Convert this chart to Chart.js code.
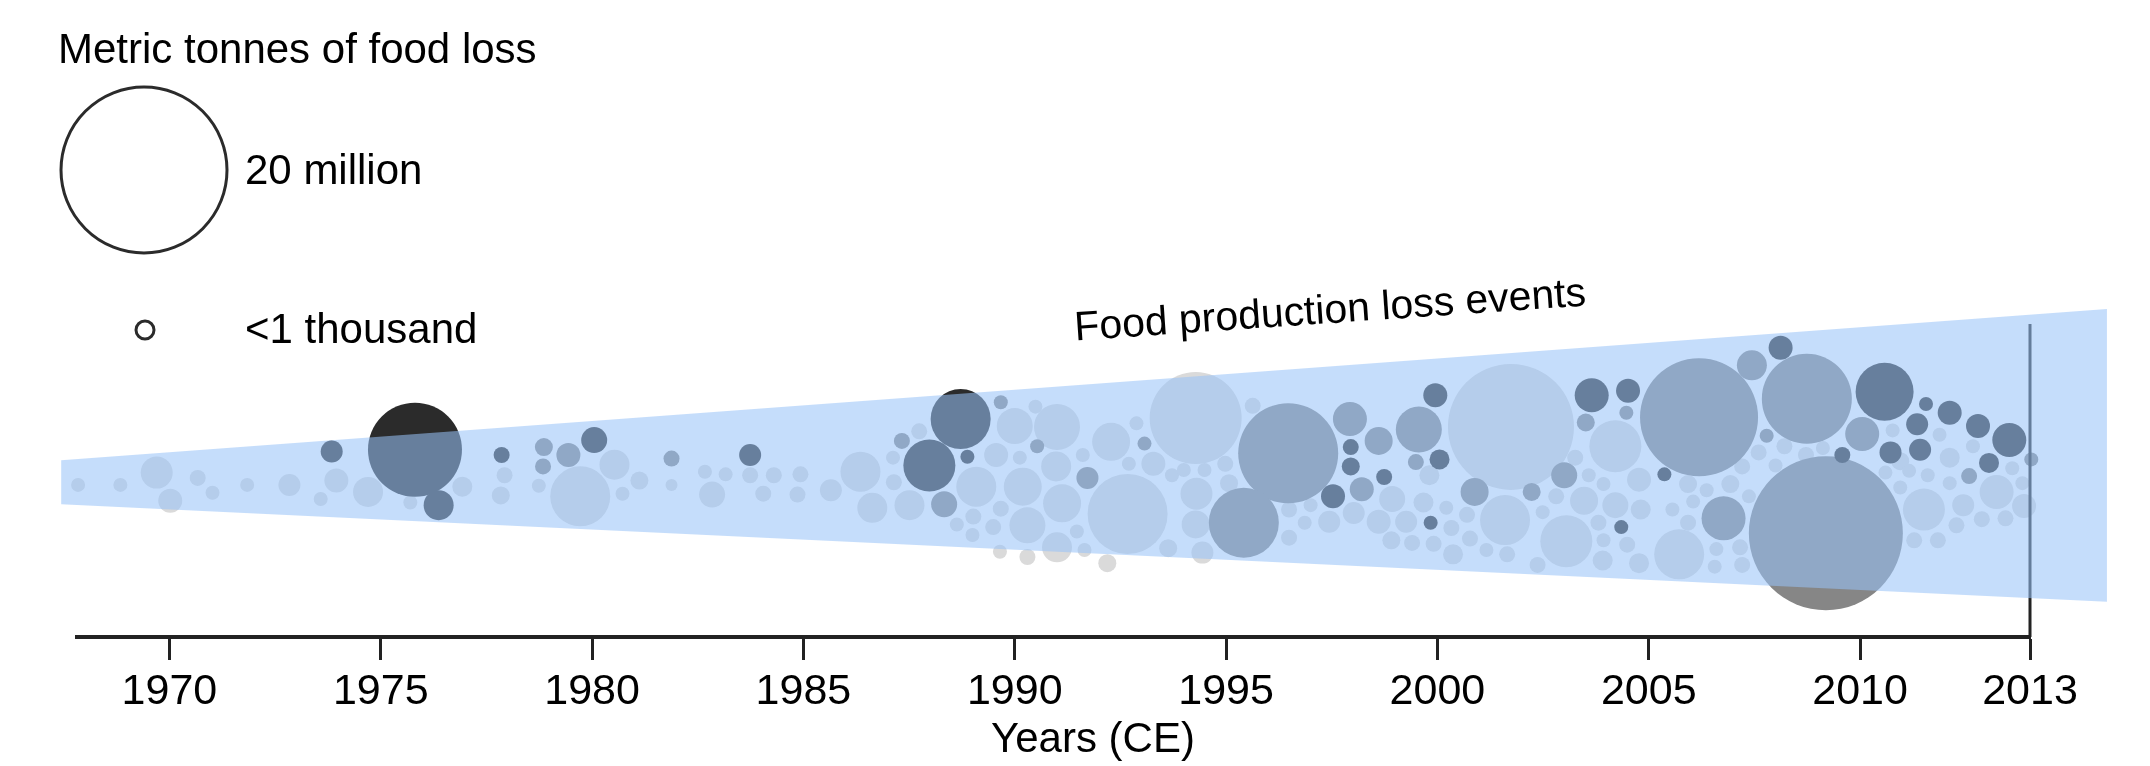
<!DOCTYPE html>
<html>
<head>
<meta charset="utf-8">
<script src="https://cdn.jsdelivr.net/npm/chart.js@4.4.1/dist/chart.umd.min.js"></script>
<style>
  html, body { margin: 0; padding: 0; background: #fff; }
  #wrap { width: 2150px; height: 766px; }
</style>
</head>
<body>
<div id="wrap"><canvas id="food_loss_chart"></canvas></div>
<script>
// bubble data (year, swarm position, radius px, shade)
var bubbleYear = [1967.84,1968.84,1969.70,1970.02,1970.67,1971.02,1971.84,1972.84,1973.84,1973.95,1973.58,1974.70,1975.81,1975.70,1976.37,1976.93,1977.86,1977.93,1977.84,1978.86,1978.84,1978.74,1979.44,1980.05,1980.53,1979.72,1981.12,1980.72,1981.88,1981.88,1982.67,1983.16,1982.84,1983.74,1983.74,1984.30,1984.05,1984.93,1984.86,1985.65,1986.35,1986.63,1987.33,1987.12,1987.14,1987.51,1987.74,1988.72,1987.98,1988.88,1988.33,1989.09,1988.63,1989.02,1989.00,1989.49,1989.67,1989.67,1990.49,1990.00,1989.56,1990.12,1990.53,1990.19,1990.30,1991.00,1990.98,1991.61,1991.72,1991.12,1991.00,1991.47,1989.65,1990.30,1991.65,1992.19,1992.28,1992.88,1993.07,1992.70,1993.28,1992.67,1993.72,1994.00,1994.49,1994.30,1994.28,1993.63,1994.44,1994.28,1996.47,1995.42,1995.63,1997.93,1998.61,1997.95,1997.95,1997.53,1999.56,1999.95,1999.49,2000.05,1999.84,1998.74,1998.21,1998.93,1998.02,1997.44,1998.61,1999.26,1999.67,1998.91,1999.40,1999.91,1996.49,1997.00,1996.86,1996.49,1994.98,1995.07,2001.74,2003.65,2004.51,2003.51,2004.47,2004.21,2006.19,2007.44,2008.12,2008.74,2010.58,2011.56,2012.12,2010.05,2011.35,2012.79,2013.53,2011.42,2010.72,2007.79,2009.58,2014.05,2013.05,2012.58,2003.00,2005.37,2002.23,2000.88,2004.35,2006.77,2009.19,2001.60,2003.05,2005.72,2003.47,2011.51,2013.23,2012.44,2013.88,2012.12,2010.95,2004.77,2003.93,2004.21,2004.81,2005.93,2006.37,2006.93,2007.37,2007.21,2007.60,2008.21,2008.72,2009.12,2008.00,2005.56,2006.05,2005.93,2006.60,2007.16,2006.56,2007.21,2004.77,2003.91,2002.37,2001.65,2001.16,2000.37,2000.77,2000.33,2000.70,2000.21,1999.81,2002.49,2002.81,2003.81,2003.93,2004.49,2003.26,2003.58,2011.28,2011.84,2012.28,2012.88,2013.44,2013.60,2013.84,2010.77,2011.88,2012.67,2011.16,2011.60,2010.95,2010.60,2012.12];
var bubblePos = [464,464,450,482,456,473,464,464,426,459,480,472,424,484,487,466,430,453,476,421,443,465,430,413,441,477,459,474,434,464,449,452,475,430,453,453,474,452,475,470,449,490,414,433,461,487,403,389,442,432,486,466,509,500,521,512,491,370,375,397,430,433,420,466,510,398,443,430,456,485,535,517,540,546,538,553,415,394,417,440,440,497,453,447,447,474,509,536,541,388,428,507,374,389,414,421,443,477,401,362,438,435,507,455,469,480,496,506,506,506,484,527,530,531,492,487,507,524,440,462,398,362,357,393,382,420,387,328,308,366,358,372,382,406,395,397,413,424,427,408,430,435,439,454,453,452,472,472,512,502,519,504,528,543,482,492,472,487,488,433,437,458,463,487,492,463,470,463,477,443,427,420,430,422,442,492,483,507,537,535,557,555,553,550,555,543,538,543,525,513,498,490,453,495,477,507,527,532,433,453,527,527,510,503,502,445,462,402,407,420,448,453,467,450,462];
var bubbleRadius = [7,7,16,12,8,7,7,11,11,12,7,15,47,7,15,10,8,8,9,9,8,7,12,13,15,30,9,7,8,6,7,7,13,11,8,8,8,8,8,11,20,15,8,7,8,15,8,30,26,7,13,20,7,8,7,8,8,7,7,18,12,7,7,19,18,23,15,7,11,19,15,7,7,8,7,9,19,7,7,7,12,40,7,7,7,16,14,9,11,46,50,35,8,17,14,8,9,12,23,12,8,10,7,8,12,13,11,11,12,11,10,9,8,8,8,7,7,8,8,9,63,17,12,9,7,26,59,15,12,45,29,7,12,17,11,12,17,11,11,7,8,7,10,8,13,7,9,14,7,22,77,25,26,25,14,21,17,11,12,10,9,12,7,13,10,9,7,9,7,8,8,8,8,7,7,7,7,8,7,8,7,8,10,10,8,8,7,10,8,8,8,7,10,7,8,8,7,8,8,7,8,8,8,8,8,7,7,7,7,7,7,7,7,7,7];
// d = dark, m = medium, l = light; everything after the listed part is light
var bubbleShade = ('lllllllldllldldldllmmlmdllllmlllldllllllllmlllldddmllllllmllllmlllllmlllllllllmlllllllllllmmlmmdddmdmdddm' +
  'lllllllllllllllldd' + 'mmlmmdmdddmdddddmdmdmmdmmdmm').padEnd(bubbleYear.length, 'l').split('');

// tick labels on the time axis
var tickYears = [1970, 1975, 1980, 1985, 1990, 1995, 2000, 2005, 2010, 2014.02];
var tickLabels = ['1970', '1975', '1980', '1985', '1990', '1995', '2000', '2005', '2010', '2013'];

// shaded band: years at its ends, top and bottom positions
var bandYears = [1967.44, 2015.84];
var bandTop = [436, 264];
var bandBottom = [486, 597];

var shadeColors = { l: '#dadada', m: '#868686', d: '#2b2b2b' };
var shadeOrder = { l: 3, m: 2, d: 1 };

function buildDataset(shade) {
  var pts = [];
  for (var i = 0; i < bubbleYear.length; i++) {
    if (bubbleShade[i] === shade) {
      pts.push({ x: bubbleYear[i], y: bubblePos[i], r: bubbleRadius[i] });
    }
  }
  return {
    data: pts,
    backgroundColor: shadeColors[shade],
    borderWidth: 0,
    hoverRadius: 0,
    clip: false,
    order: shadeOrder[shade]
  };
}

var FONT = "'Liberation Sans', Arial, sans-serif";

var overlayPlugin = {
  id: 'overlay',
  afterDatasetsDraw: function(chart) {
    var c = chart.ctx, xs = chart.scales.x, ys = chart.scales.y;
    c.save();
    // 2013 marker line
    var lx = xs.getPixelForValue(tickYears[tickYears.length - 1]);
    c.strokeStyle = '#222';
    c.lineWidth = 3;
    c.beginPath();
    c.moveTo(lx, ys.getPixelForValue(281));
    c.lineTo(lx, ys.getPixelForValue(637));
    c.stroke();
    // band
    c.fillStyle = 'rgba(152,194,248,0.56)';
    c.beginPath();
    c.moveTo(xs.getPixelForValue(bandYears[0]), ys.getPixelForValue(bandTop[0]));
    c.lineTo(xs.getPixelForValue(bandYears[1]), ys.getPixelForValue(bandTop[1]));
    c.lineTo(xs.getPixelForValue(bandYears[1]), ys.getPixelForValue(bandBottom[1]));
    c.lineTo(xs.getPixelForValue(bandYears[0]), ys.getPixelForValue(bandBottom[0]));
    c.closePath();
    c.fill();
    c.restore();
  },
  afterDraw: function(chart) {
    var c = chart.ctx;
    c.save();
    c.fillStyle = '#000';
    c.textBaseline = 'alphabetic';
    c.font = '42px ' + FONT;
    c.fillText('Metric tonnes of food loss', 58, 63);
    c.textBaseline = 'middle';
    c.fillText('20 million', 245, 172);
    c.fillText('<1 thousand', 245, 331);
    c.strokeStyle = '#2b2b2b';
    c.lineWidth = 3;
    c.beginPath(); c.arc(144, 170, 83, 0, Math.PI * 2); c.stroke();
    c.beginPath(); c.arc(145, 330, 9, 0, Math.PI * 2); c.stroke();
    // axis title
    c.textAlign = 'center';
    c.fillText('Years (CE)', 1093, 740);
    // band label
    c.translate(1331, 323);
    c.rotate(-3.9 * Math.PI / 180);
    c.font = '41px ' + FONT;
    c.textBaseline = 'alphabetic';
    c.fillText('Food production loss events', 0, 0);
    c.restore();
  }
};

var ctx = document.getElementById('food_loss_chart');
var foodlosschart = new Chart(ctx, {
  type: 'bubble',
  data: {
    datasets: [buildDataset('l'), buildDataset('m'), buildDataset('d')]
  },
  options: {
    responsive: true,
    maintainAspectRatio: false,
    animation: false,
    events: [],
    layout: {
      padding: { left: 43, right: 120, top: 0, bottom: 0 }
    },
    plugins: {
      legend: { display: false },
      tooltip: { enabled: false }
    },
    scales: {
      x: {
        type: 'linear',
        min: 1967.814,
        max: 2014.02,
        afterBuildTicks: function(scale) {
          scale.ticks = tickYears.map(function(v) { return { value: v }; });
        },
        afterFit: function(scale) { scale.height = 129; },
        border: { display: true, color: '#222', width: 4 },
        grid: {
          display: true,
          drawOnChartArea: false,
          drawTicks: true,
          tickLength: 23,
          tickWidth: 3,
          color: '#222'
        },
        ticks: {
          autoSkip: false,
          maxRotation: 0,
          padding: 6,
          color: '#000',
          font: { family: FONT, size: 43 },
          callback: function(value, index) { return tickLabels[index]; }
        }
      },
      y: {
        display: false,
        reverse: true,
        min: 0,
        max: 637
      }
    }
  },
  plugins: [overlayPlugin]
});
</script>
</body>
</html>
